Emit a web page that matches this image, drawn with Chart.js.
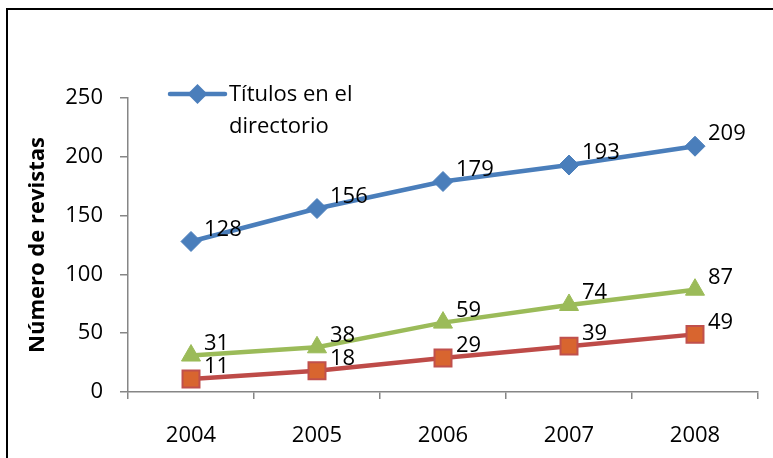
<!DOCTYPE html>
<html>
<head>
<meta charset="utf-8">
<script src="https://cdn.jsdelivr.net/npm/chart.js@4.4.1/dist/chart.umd.min.js"></script>
<style>
  html, body { margin: 0; padding: 0; background: #fff; overflow: hidden; }
  #wrap { position: absolute; left: 0; top: 0; width: 773px; height: 458px; }
  #frame { position: absolute; left: 6px; top: 8px; width: 800px; height: 500px; border: 2px solid #000; box-sizing: border-box; pointer-events: none; }
</style>
</head>
<body>
<div id="wrap"><canvas id="c" width="773" height="458"></canvas></div>
<div id="frame"></div>
<script>
const categories = ['2004', '2005', '2006', '2007', '2008'];
const titulos = [128, 156, 179, 193, 209];
const serie2 = [11, 18, 29, 39, 49];
const serie3 = [31, 38, 59, 74, 87];
const yTicks = [0, 50, 100, 150, 200, 250];

const FONT = '"Open Sans", "Liberation Sans", sans-serif';

const dataLabels = {
  id: 'dataLabels',
  afterDatasetsDraw(chart) {
    const ctx = chart.ctx;
    ctx.save();
    ctx.font = '22px ' + FONT;
    ctx.fillStyle = '#000';
    ctx.textAlign = 'left';
    ctx.textBaseline = 'middle';
    chart.data.datasets.forEach((ds, i) => {
      const meta = chart.getDatasetMeta(i);
      meta.data.forEach((pt, j) => {
        ctx.fillText(String(ds.data[j]), pt.x + 13, pt.y - 12);
      });
    });
    ctx.restore();
  }
};

const customLegend = {
  id: 'customLegend',
  afterDraw(chart) {
    const ctx = chart.ctx;
    const ds = chart.data.datasets[0];
    const x0 = 170, x1 = 225, y = 94;
    ctx.save();
    ctx.strokeStyle = ds.borderColor;
    ctx.lineWidth = ds.borderWidth;
    ctx.lineCap = 'round';
    ctx.beginPath(); ctx.moveTo(x0, y); ctx.lineTo(x1, y); ctx.stroke();
    ctx.fillStyle = ds.pointBackgroundColor;
    ctx.beginPath();
    const r = ds.pointRadius;
    const cx = (x0 + x1) / 2;
    ctx.moveTo(cx, y - r); ctx.lineTo(cx + r, y); ctx.lineTo(cx, y + r); ctx.lineTo(cx - r, y); ctx.closePath();
    ctx.fill();
    ctx.font = '22px ' + FONT;
    ctx.fillStyle = '#000';
    ctx.textAlign = 'left';
    ctx.textBaseline = 'middle';
    const words = ds.label.split(' ');
    const lines = [words.slice(0, 3).join(' '), words.slice(3).join(' ')];
    lines.forEach((t, k) => ctx.fillText(t, 229, y + 1 + k * 32));
    ctx.restore();
  }
};

new Chart(document.getElementById('c'), {
  type: 'line',
  data: {
    labels: categories,
    datasets: [
      { label: 'Títulos en el directorio', data: titulos, borderColor: '#4A7EBB', backgroundColor: '#4A7EBB',
        borderWidth: 4.5, pointStyle: 'rectRot', pointRadius: 10, pointBackgroundColor: '#4A7EBB', pointBorderColor: '#4A7EBB', pointBorderWidth: 1 },
      { label: 'Serie 2', data: serie2, borderColor: '#BE4B48', backgroundColor: '#D8652F',
        borderWidth: 4.5, pointStyle: 'rect', pointRadius: 12, pointBackgroundColor: '#D8652F', pointBorderColor: '#C0504D', pointBorderWidth: 2 },
      { label: 'Serie 3', data: serie3, borderColor: '#9BBB59', backgroundColor: '#9BBB59',
        borderWidth: 4.5, pointStyle: 'triangle', pointRadius: 11, pointBackgroundColor: '#9BBB59', pointBorderColor: '#9BBB59', pointBorderWidth: 1 }
    ]
  },
  options: {
    responsive: false,
    animation: false,
    events: [],
    layout: { padding: { top: 98, right: 15, left: 0, bottom: 0 } },
    plugins: { legend: { display: false }, tooltip: { enabled: false } },
    scales: {
      x: {
        offset: true,
        afterFit(s) { s.height = 66; },
        grid: { offset: true, drawOnChartArea: false, tickLength: 7, color: '#868686', lineWidth: 1.5 },
        border: { color: '#868686', width: 1.5 },
        ticks: { font: { family: FONT, size: 22 }, color: '#000', padding: 24 }
      },
      y: {
        min: 0, max: 250,
        afterFit(s) { s.width = 128; },
        afterBuildTicks(s) { s.ticks = yTicks.map(v => ({ value: v })); },
        grid: { drawOnChartArea: false, tickLength: 8, color: '#868686', lineWidth: 1.5 },
        border: { color: '#868686', width: 1.5 },
        ticks: { font: { family: FONT, size: 22 }, color: '#000', padding: 17 },
        title: { display: true, text: 'Número de revistas', font: { family: FONT, size: 22, weight: 'bold' }, color: '#000', padding: { top: 25, bottom: 0 } }
      }
    }
  },
  plugins: [dataLabels, customLegend]
});
</script>
</body>
</html>
